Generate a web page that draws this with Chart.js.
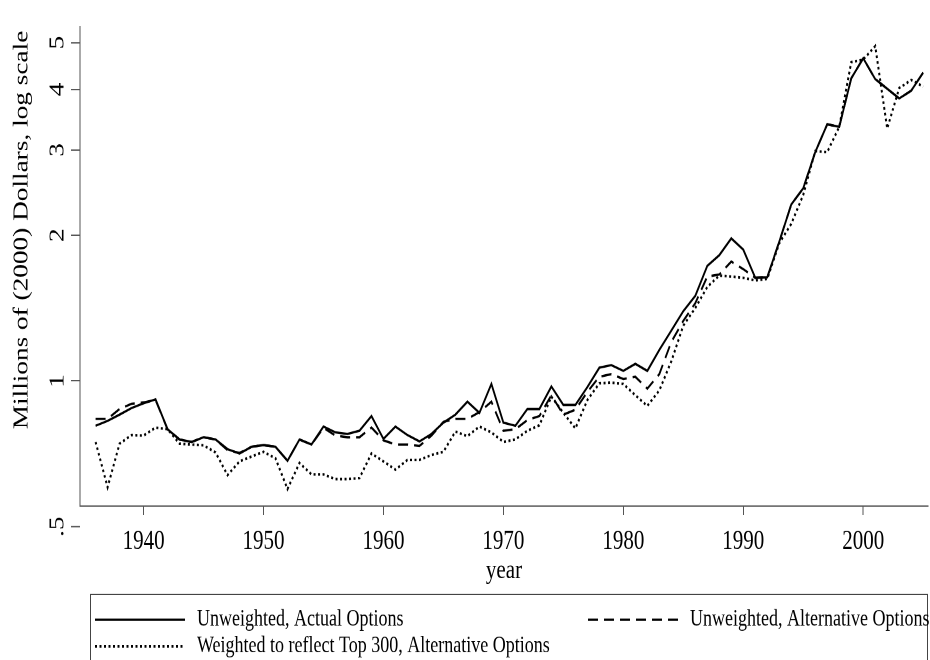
<!DOCTYPE html>
<html>
<head>
<meta charset="utf-8">
<script src="https://cdn.jsdelivr.net/npm/chart.js@4.4.1/dist/chart.umd.min.js"></script>
<style>
  html, body { margin: 0; padding: 0; background: #fff; }
</style>
</head>
<body>
<!-- the reference is stretched vertically: draw at 930x508, show at 930x660 -->
<canvas id="chart" width="930" height="508" style="display:block; width:930px; height:660px;"></canvas>
<script>
(function () {
  var FONT = "'Liberation Serif', 'Times New Roman', serif";

  // years 1936..2005
  var years = [];
  for (var yr = 1936; yr <= 2005; yr++) years.push(yr);

  var xTicks = [1940, 1950, 1960, 1970, 1980, 1990, 2000];
  var yTicks = [0.5, 1, 2, 3, 4, 5];
  var yTitle = 'Millions of (2000) Dollars, log scale';
  var seriesNames = [
    'Unweighted, Actual Options',
    'Unweighted, Alternative Options',
    'Weighted to reflect Top 300, Alternative Options'
  ];

  // millions of 2000 dollars
  var actualOptions = [
    0.808, 0.827, 0.852, 0.879, 0.899, 0.916, 0.795, 0.757, 0.748, 0.765,
    0.757, 0.723, 0.708, 0.731, 0.737, 0.731, 0.684, 0.757, 0.739, 0.805,
    0.783, 0.777, 0.789, 0.846, 0.759, 0.805, 0.773, 0.750, 0.777, 0.820,
    0.852, 0.906, 0.859, 0.986, 0.820, 0.808, 0.875, 0.875, 0.974, 0.892,
    0.892, 0.971, 1.065, 1.078, 1.049, 1.085, 1.049, 1.159, 1.271, 1.394,
    1.499, 1.729, 1.819, 1.970, 1.867, 1.633, 1.638, 1.940, 2.315, 2.501,
    2.970, 3.390, 3.349, 4.217, 4.640, 4.203, 4.014, 3.833, 3.977, 4.335
  ];
  var altOptions = [
    0.835, 0.835, 0.875, 0.897, 0.903, 0.913, 0.795, 0.757, 0.748, 0.765,
    0.757, 0.720, 0.710, 0.731, 0.737, 0.731, 0.684, 0.757, 0.739, 0.800,
    0.771, 0.765, 0.765, 0.801, 0.754, 0.739, 0.739, 0.734, 0.771, 0.823,
    0.835, 0.835, 0.862, 0.906, 0.789, 0.795, 0.830, 0.846, 0.934, 0.852,
    0.872, 0.949, 1.020, 1.033, 1.009, 1.020, 0.964, 1.033, 1.204, 1.331,
    1.448, 1.643, 1.659, 1.764, 1.702, 1.633, 1.638, 1.940, 2.315, 2.501,
    2.970, 3.390, 3.349, 4.217, 4.640, 4.203, 4.014, 3.833, 3.977, 4.335
  ];
  var weightedTop300 = [
    0.748, 0.603, 0.742, 0.773, 0.771, 0.801, 0.795, 0.742, 0.739, 0.736,
    0.712, 0.639, 0.682, 0.698, 0.714, 0.692, 0.598, 0.677, 0.641, 0.641,
    0.627, 0.627, 0.630, 0.708, 0.682, 0.656, 0.687, 0.687, 0.703, 0.714,
    0.786, 0.769, 0.805, 0.783, 0.748, 0.757, 0.789, 0.810, 0.928, 0.859,
    0.798, 0.913, 0.989, 0.992, 0.986, 0.934, 0.888, 0.956, 1.098, 1.301,
    1.415, 1.564, 1.651, 1.643, 1.633, 1.613, 1.625, 1.925, 2.111, 2.424,
    2.984, 2.970, 3.349, 4.555, 4.610, 4.917, 3.322, 4.027, 4.184, 4.058
  ];

  function toPoints(vals) {
    return vals.map(function (v, i) { return { x: years[i], y: v }; });
  }

  function tickLabel(v) {
    return v === 0.5 ? '.5' : String(v);
  }

  // .5 sits below the x axis (outside the chart area), and the y title is
  // placed above centre, so both are drawn here
  var yExtrasPlugin = {
    id: 'yExtras',
    afterDraw: function (chart) {
      var ys = chart.scales.y;
      var ctx = chart.ctx;
      ctx.save();
      ctx.font = '21px ' + FONT;
      ctx.fillStyle = '#000';
      ctx.textAlign = 'center';
      ctx.textBaseline = 'middle';
      yTicks.forEach(function (v) {
        if (v >= ys.min) return;
        var py = ys.getPixelForValue(v);
        ctx.strokeStyle = '#555';
        ctx.lineWidth = 1;
        ctx.beginPath();
        ctx.moveTo(ys.right - 9, py);
        ctx.lineTo(ys.right, py);
        ctx.stroke();
        ctx.save();
        ctx.translate(ys.right - 9 - 8 - 5, py);
        ctx.rotate(-Math.PI / 2);
        ctx.fillText(tickLabel(v), 0, 0);
        ctx.restore();
      });
      ctx.translate(22, 177);
      ctx.rotate(-Math.PI / 2);
      ctx.fillText(yTitle, 0, 0);
      ctx.restore();
    }
  };

  // boxed legend under the axis, open at the bottom edge like the reference
  var legendBoxPlugin = {
    id: 'legendBox',
    afterDraw: function (chart) {
      var ctx = chart.ctx;
      var top = 457.5, left = 90.5, right = 927.5, bottom = chart.height + 2;
      var rows = [
        { ds: 0, x: 95, y: 477 },
        { ds: 1, x: 588, y: 477 },
        { ds: 2, x: 95, y: 497.5 }
      ];
      ctx.save();
      ctx.strokeStyle = '#444';
      ctx.lineWidth = 1;
      ctx.beginPath();
      ctx.moveTo(left, bottom);
      ctx.lineTo(left, top);
      ctx.lineTo(right, top);
      ctx.lineTo(right, bottom);
      ctx.stroke();
      ctx.font = '18px ' + FONT;
      ctx.fillStyle = '#000';
      ctx.textAlign = 'left';
      ctx.textBaseline = 'middle';
      rows.forEach(function (r) {
        var ds = chart.data.datasets[r.ds];
        ctx.strokeStyle = ds.borderColor;
        ctx.lineWidth = ds.borderWidth;
        ctx.setLineDash(ds.borderDash || []);
        ctx.beginPath();
        ctx.moveTo(r.x, r.y);
        ctx.lineTo(r.x + 90, r.y);
        ctx.stroke();
        ctx.setLineDash([]);
        ctx.fillText(ds.label, r.x + 102, r.y);
      });
      ctx.restore();
    }
  };

  new Chart(document.getElementById('chart'), {
    type: 'line',
    data: {
      datasets: [
        {
          label: seriesNames[0],
          data: toPoints(actualOptions),
          borderColor: '#000', borderWidth: 1.8, pointRadius: 0, tension: 0, fill: false
        },
        {
          label: seriesNames[1],
          data: toPoints(altOptions),
          borderColor: '#000', borderWidth: 1.8, borderDash: [10, 6], pointRadius: 0, tension: 0, fill: false
        },
        {
          label: seriesNames[2],
          data: toPoints(weightedTop300),
          borderColor: '#000', borderWidth: 2, borderDash: [2, 2.5], pointRadius: 0, tension: 0, fill: false
        }
      ]
    },
    options: {
      responsive: false,
      maintainAspectRatio: false,
      devicePixelRatio: 2,
      animation: false,
      layout: { padding: { top: 9.2, right: 2, left: 0, bottom: 56 } },
      plugins: { legend: { display: false }, tooltip: { enabled: false } },
      scales: {
        x: {
          type: 'linear',
          min: 1934.7,
          max: 2005.4,
          afterBuildTicks: function (s) {
            s.ticks = xTicks.map(function (v) { return { value: v }; });
          },
          afterFit: function (s) { s.height = 62.5; },
          ticks: {
            font: { family: FONT, size: 21 }, color: '#000', padding: 8, maxRotation: 0,
            callback: function (v) { return String(v); }
          },
          grid: { drawOnChartArea: false, drawTicks: true, tickLength: 7, color: '#555' },
          border: { color: '#555', width: 1 },
          title: { display: true, text: 'year', font: { family: FONT, size: 21 }, color: '#000', padding: 0 }
        },
        y: {
          type: 'logarithmic',
          min: 0.5515,
          max: 5.39,
          afterBuildTicks: function (s) {
            s.ticks = yTicks.filter(function (v) { return v >= s.min; })
              .map(function (v) { return { value: v }; });
          },
          afterFit: function (s) { s.width = 80; },
          ticks: {
            font: { family: FONT, size: 21 }, color: '#000', padding: 8,
            minRotation: 90, maxRotation: 90, crossAlign: 'center',
            callback: function (v) { return tickLabel(v); }
          },
          grid: { drawOnChartArea: false, drawTicks: true, tickLength: 9, color: '#555' },
          border: { color: '#555', width: 1 }
        }
      }
    },
    plugins: [yExtrasPlugin, legendBoxPlugin]
  });
})();
</script>
</body>
</html>
